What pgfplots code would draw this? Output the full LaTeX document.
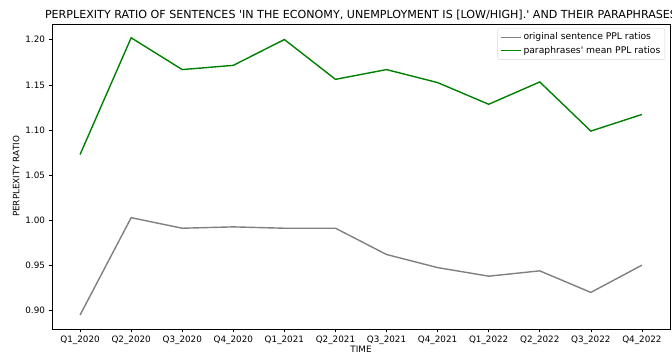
\documentclass[border=0pt]{standalone}
\usepackage{fontspec}
\setmainfont{DejaVu Sans}[Ligatures=TeXOff]
\usepackage{pgfplots}
\pgfplotsset{compat=1.18}
\definecolor{mplgreen}{HTML}{008000}
\definecolor{mplgrey}{HTML}{808080}
\begin{document}
\begin{tikzpicture}
\begin{axis}[
  at={(0pt,0pt)}, anchor=south west,
  scale only axis,
  width=618pt, height=305pt,
  xmin=-0.55, xmax=11.55,
  ymin=0.8797, ymax=1.2175,
  xtick={0,1,2,3,4,5,6,7,8,9,10,11},
  xticklabels={Q1\_2020,Q2\_2020,Q3\_2020,Q4\_2020,Q1\_2021,Q2\_2021,Q3\_2021,Q4\_2021,Q1\_2022,Q2\_2022,Q3\_2022,Q4\_2022},
  ytick={0.90,0.95,1.00,1.05,1.10,1.15,1.20},
  yticklabel style={/pgf/number format/.cd,fixed,fixed zerofill,precision=2,assume math mode=true},
  xtick pos=left, ytick pos=left,
  tick align=outside,
  major tick length=3.5pt,
  tick style={black, line width=0.6pt},
  axis line style={black, line width=0.6pt},
  ticklabel style={font=\fontsize{8.8}{10}\selectfont},
  xlabel={TIME},
  ylabel={PERPLEXITY RATIO},
  label style={font=\fontsize{8.8}{10}\selectfont},
  xlabel style={yshift=5pt},
  ylabel style={yshift=-1pt},
  title={PERPLEXITY RATIO OF SENTENCES 'IN THE ECONOMY, UNEMPLOYMENT IS [LOW/HIGH].' AND THEIR PARAPHRASES},
  title style={font=\fontsize{11.1}{13}\selectfont, yshift=-6pt},
  legend cell align=left,
  legend style={font=\fontsize{9.2}{11}\selectfont, draw=black!15, rounded corners=2pt, at={(0.992,0.986)}, anchor=north east, inner xsep=2.5pt, inner ysep=2.5pt, row sep=1pt},
  legend image code/.code={\draw[#1, line width=1.4pt] (0pt,0pt) -- (20pt,0pt);},
  clip=false,
]
\addplot[mplgrey, line width=1.4pt] coordinates {
(0,0.8952) (1,1.0030) (2,0.9913) (3,0.9928) (4,0.9913) (5,0.9913)
(6,0.9622) (7,0.9477) (8,0.9382) (9,0.9441) (10,0.9202) (11,0.9504)
};
\addlegendentry{original sentence PPL ratios}
\addplot[mplgreen, line width=1.4pt] coordinates {
(0,1.0730) (1,1.2022) (2,1.1670) (3,1.1717) (4,1.2003) (5,1.1562)
(6,1.1670) (7,1.1526) (8,1.1286) (9,1.1533) (10,1.0989) (11,1.1173)
};
\addlegendentry{paraphrases' mean PPL ratios}
\end{axis}
\pgfresetboundingbox
\useasboundingbox (-52pt,-29pt) rectangle (620pt,329pt);
\end{tikzpicture}
\end{document}
